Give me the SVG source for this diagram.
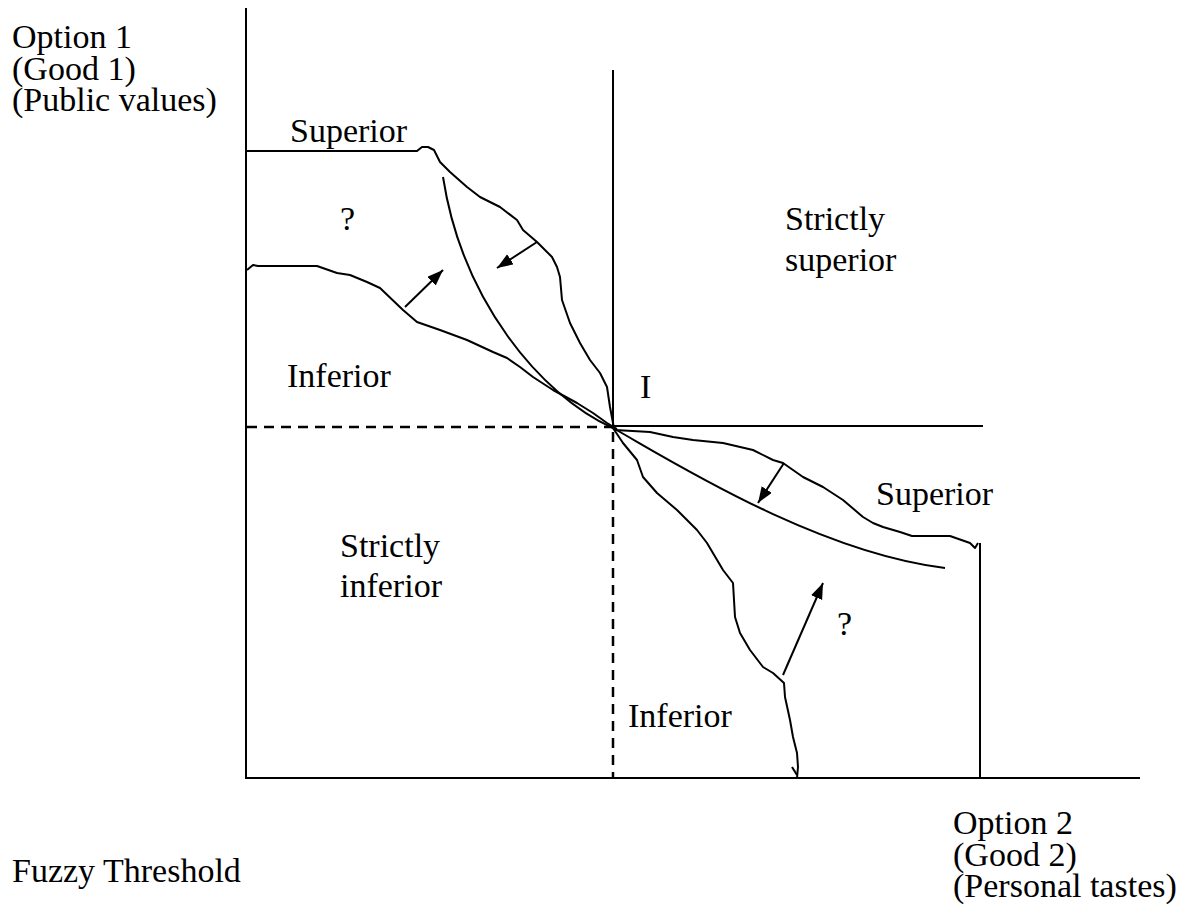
<svg xmlns="http://www.w3.org/2000/svg" width="1188" height="922" viewBox="0 0 1188 922">
  <style>
    .ln { fill: none; stroke: #000; stroke-width: 2; stroke-linejoin: round; stroke-linecap: butt; }
    .dash { fill: none; stroke: #000; stroke-width: 2.5; stroke-dasharray: 10 7; }
    .arr { fill: none; stroke: #000; stroke-width: 2; marker-end: url(#head); }
    text { font-family: "Liberation Serif", "Times New Roman", serif; font-size: 34px; fill: #000; }
  </style>
  <defs>
    <marker id="head" markerUnits="userSpaceOnUse" markerWidth="18" markerHeight="14" refX="16" refY="6" orient="auto">
      <path d="M0,0 L16,6 L0,12 z" fill="#000"/>
    </marker>
  </defs>
  <rect width="1188" height="922" fill="#fff"/>

  <!-- axes -->
  <g id="axes">
    <line class="ln" x1="246" y1="8" x2="246" y2="779"/>
    <line class="ln" x1="245" y1="778" x2="1140" y2="778"/>
  </g>

  <!-- reference point I and its quadrant boundaries -->
  <g id="quadrants">
    <line class="ln" x1="613" y1="70" x2="613" y2="428"/>
    <line class="ln" x1="613" y1="426" x2="983" y2="426"/>
    <line class="dash" x1="247" y1="427" x2="612" y2="427"/>
    <line class="dash" x1="613" y1="432" x2="613" y2="778"/>
    <line class="ln" x1="980" y1="543" x2="980" y2="778"/>
  </g>

  <!-- fuzzy boundaries and the indifference curve -->
  <g id="curves">
    <polyline class="ln" points="247,151 417,151 422,147 428,147 434,150 440,162 450,172 467,187 480,197 500,207 517,220 523,230 537,242 552,257 557,267 560,277 562,300 570,323 580,343 590,360 600,373 607,387 610,407 613,423 614,428"/>
    <polyline class="ln" points="247,270 253,265 258,266 317,266 337,273 350,275 367,282 380,288 403,310 417,322 440,330 467,340 493,352 507,358 520,367 533,377 553,390 577,403 593,413 607,423 617,429"/>
    <polyline class="ln" points="613,428 615,430 650,432 673,437 693,440 723,443 753,450 773,460 783,463 803,477 823,487 843,500 863,517 873,523 883,527 900,532 912,536 950,536 970,543 975,548 978,543"/>
    <polyline class="ln" points="613,428 623,443 637,460 643,477 657,493 677,510 697,530 707,543 723,570 733,583 735,617 740,633 750,650 763,667 773,673 784,683 785,697 790,720 793,737 797,753 798,767 797,778"/>
    <polyline class="ln" points="792,767 797,775"/>
    <path class="ln" d="M443,177 C462,300 540,395 613,428 C670,460 815,552 945,568"/>
  </g>

  <!-- shift arrows -->
  <g id="connectors">
    <line class="arr" x1="405" y1="307" x2="443" y2="270"/>
    <line class="arr" x1="537" y1="242" x2="497" y2="268"/>
    <line class="arr" x1="784" y1="463" x2="758" y2="503"/>
    <line class="arr" x1="783" y1="675" x2="823" y2="583"/>
  </g>

  <!-- labels -->
  <g id="label-option1">
    <text x="12" y="48">Option 1</text>
    <text x="12" y="80">(Good 1)</text>
    <text x="12" y="111">(Public values)</text>
  </g>
  <g id="label-option2">
    <text x="953" y="834">Option 2</text>
    <text x="953" y="866">(Good 2)</text>
    <text x="953" y="897">(Personal tastes)</text>
  </g>
  <g id="label-fuzzy"><text x="12" y="882">Fuzzy Threshold</text></g>
  <g id="label-superior-top"><text x="290" y="142">Superior</text></g>
  <g id="label-q-left"><text x="340" y="230">?</text></g>
  <g id="label-strictly-superior">
    <text x="785" y="230">Strictly</text>
    <text x="785" y="271">superior</text>
  </g>
  <g id="label-inferior-left"><text x="287" y="387">Inferior</text></g>
  <g id="label-I"><text x="640" y="398">I</text></g>
  <g id="label-superior-right"><text x="876" y="505">Superior</text></g>
  <g id="label-strictly-inferior">
    <text x="340" y="557">Strictly</text>
    <text x="340" y="597">inferior</text>
  </g>
  <g id="label-q-right"><text x="837" y="635">?</text></g>
  <g id="label-inferior-bottom"><text x="628" y="727">Inferior</text></g>
</svg>
